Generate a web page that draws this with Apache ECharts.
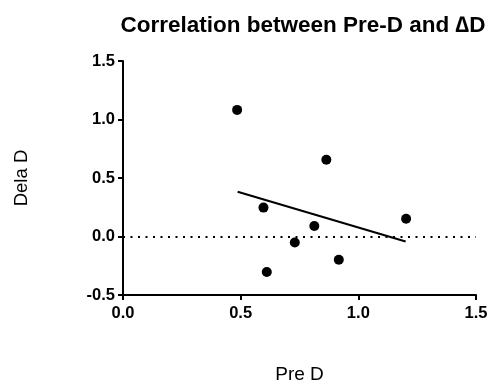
<!DOCTYPE html>
<html><head><meta charset="utf-8">
<script src="https://cdn.jsdelivr.net/npm/echarts@6/dist/echarts.min.js"></script>
<style>html,body{margin:0;padding:0;background:#fff}#c{width:490px;height:382px}</style>
</head><body><div id="c"></div>
<script>
const preD = [0.485, 0.597, 0.611, 0.730, 0.813, 0.864, 0.917, 1.203];
const deltaD = [1.082, 0.247, -0.303, -0.051, 0.089, 0.656, -0.198, 0.151];
const fitX = [0.487, 1.201];
const fitY = [0.383, -0.043];
const xTicks = [0.0, 0.5, 1.0, 1.5];
const yTicks = [-0.5, 0.0, 0.5, 1.0, 1.5];

const chart = echarts.init(document.getElementById('c'));
const font = 'Liberation Sans, Arial, sans-serif';
chart.setOption({
  animation: false,
  title: {
    text: 'Correlation between Pre-D and \u2206D',
    left: 298, top: 9, textAlign: 'center',
    textStyle: {fontFamily: font, fontWeight: 'bold', fontSize: 22.5, color: '#000'}
  },
  grid: {left: 123, right: 14, top: 61, bottom: 87, outerBoundsMode: 'none', containLabel: false},
  xAxis: {
    type: 'value', min: xTicks[0], max: xTicks[xTicks.length-1], interval: 0.5,
    name: 'Pre D', nameLocation: 'middle', nameGap: 70,
    nameTextStyle: {fontFamily: font, fontSize: 19, color: '#000'},
    axisLine: {onZero: false, lineStyle: {color: '#000', width: 2}},
    axisTick: {length: 5, lineStyle: {color: '#000', width: 2}},
    axisLabel: {margin: 10, fontFamily: font, fontWeight: 'bold', fontSize: 16.5, color: '#000',
      formatter: v => v.toFixed(1)},
    splitLine: {show: false}
  },
  yAxis: {
    type: 'value', min: yTicks[0], max: yTicks[yTicks.length-1], interval: 0.5,
    name: 'Dela D', nameLocation: 'middle', nameGap: 92, nameRotate: 90,
    nameTextStyle: {fontFamily: font, fontSize: 18.5, color: '#000'},
    axisLine: {show: true, onZero: false, lineStyle: {color: '#000', width: 2}},
    axisTick: {show: true, length: 5, lineStyle: {color: '#000', width: 2}},
    axisLabel: {margin: 8, fontFamily: font, fontWeight: 'bold', fontSize: 16.5, color: '#000',
      formatter: v => v.toFixed(1)},
    splitLine: {show: false}
  },
  series: [
    {
      type: 'scatter', symbol: 'circle', symbolSize: 10,
      itemStyle: {color: '#000', opacity: 1},
      data: preD.map((x, i) => [x, deltaD[i]]),
      z: 5
    },
    {
      type: 'line', symbol: 'none',
      lineStyle: {color: '#000', width: 2},
      data: fitX.map((x, i) => [x, fitY[i]]),
      markLine: {
        silent: true, symbol: 'none', label: {show: false},
        lineStyle: {color: '#000', type: [2, 5.5], width: 2},
        data: [{yAxis: 0}]
      }
    }
  ]
});
</script></body></html>
